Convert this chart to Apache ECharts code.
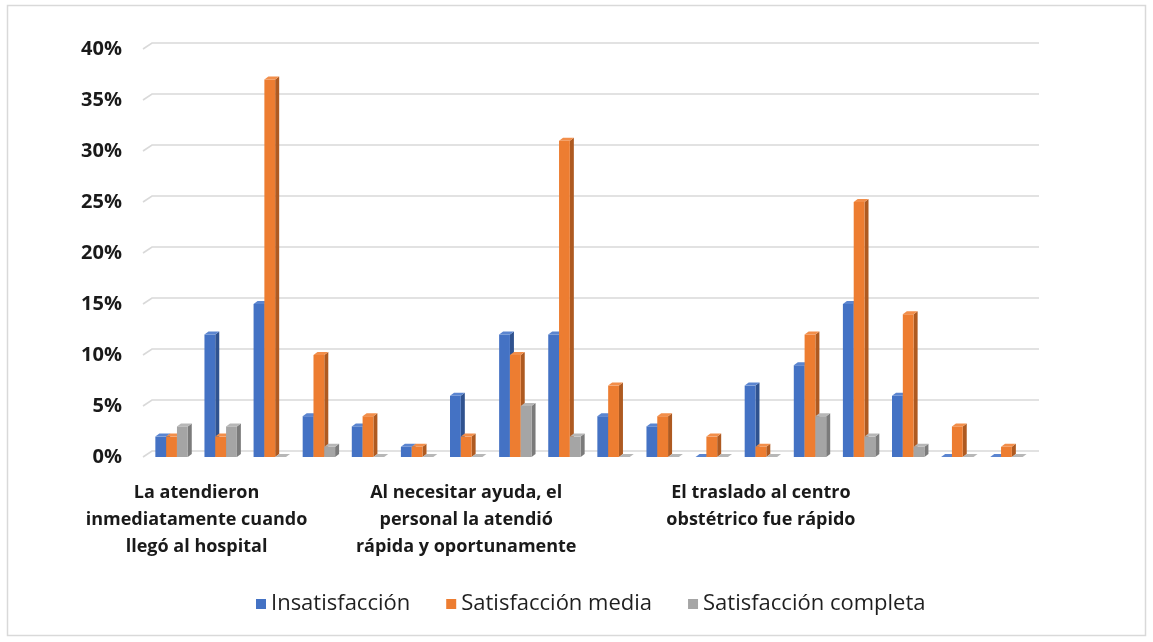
<!DOCTYPE html>
<html>
<head>
<meta charset="utf-8">
<script src="https://cdn.jsdelivr.net/npm/echarts@6/dist/echarts.min.js"></script>
<style>
  html, body { margin: 0; padding: 0; background: #ffffff; }
  #chart { width: 1153px; height: 642px; }
</style>
</head>
<body>
<div id="chart"></div>
<script>
// Survey items; each item covers six response groups on the axis
const questions = [
  'La atendieron\ninmediatamente cuando\nllegó al hospital',
  'Al necesitar ayuda, el\npersonal la atendió\nrápida y oportunamente',
  'El traslado al centro\nobstétrico fue rápido'
];
const groupsPerQuestion = 6;

const seriesNames = ['Insatisfacción', 'Satisfacción media', 'Satisfacción completa'];

// Percentages per group
const insatisfaccion = [2, 12, 15, 4, 3, 1, 6, 12, 12, 4, 3, 0, 7, 9, 15, 6, 0, 0];
const satisfaccionMedia = [2, 2, 37, 10, 4, 1, 2, 10, 31, 7, 4, 2, 1, 12, 25, 14, 3, 1];
const satisfaccionCompleta = [3, 3, 0, 1, 0, 0, 0, 5, 2, 0, 0, 0, 0, 4, 2, 1, 0, 0];

const yTicks = [0, 5, 10, 15, 20, 25, 30, 35, 40];

// Category list: the question text sits on the first group of each block
const categories = [];
questions.forEach(function (q) {
  for (let i = 0; i < groupsPerQuestion; i++) categories.push(i === 0 ? q : '');
});
const axisCategories = categories.map(function (c, i) {
  // the first label is nudged right so it stays inside the frame
  if (i === 0) return { value: c, textStyle: { padding: [0, 0, 0, 50] } };
  return c;
});

const palette = [
  { front: '#4472C4', side: '#2F528F', top: '#5B85D0' },
  { front: '#ED7D31', side: '#AE5A21', top: '#F28E4A' },
  { front: '#A5A5A5', side: '#7B7B7B', top: '#B7B7B7' }
];

const DEPTH_X = 4, DEPTH_Y = 3;

function barRenderer(seriesIdx) {
  const col = palette[seriesIdx];
  return function (params, api) {
    const idx = api.value(0);
    const val = api.value(1);
    const base = api.coord([idx, 0]);
    const top = api.coord([idx, val]);
    const band = api.size([1, 0])[0];
    const w = band * 0.22;
    const x = base[0] + (seriesIdx - 1.5) * w;
    const yb = base[1];
    const yt = top[1];
    return {
      type: 'group',
      children: [
        {
          type: 'polygon',
          shape: { points: [[x + w, yt], [x + w + DEPTH_X, yt - DEPTH_Y], [x + w + DEPTH_X, yb - DEPTH_Y], [x + w, yb]] },
          style: { fill: col.side }
        },
        {
          type: 'rect',
          shape: { x: x, y: yt, width: w, height: yb - yt },
          style: { fill: col.front }
        },
        {
          type: 'polygon',
          shape: { points: [[x, yt], [x + DEPTH_X, yt - DEPTH_Y], [x + w + DEPTH_X, yt - DEPTH_Y], [x + w, yt]] },
          style: { fill: col.top }
        }
      ]
    };
  };
}

// Gridlines drawn on the back wall, joined to the front edge by a short slant
function gridRenderer(params, api) {
  const v = api.value(0);
  const yf = api.coord([0, v])[1];
  const cs = params.coordSys;
  const x0 = cs.x - 4;
  const x1 = cs.x + 5;
  const x2 = cs.x + cs.width + 8;
  return {
    type: 'polyline',
    shape: { points: [[x0, yf], [x1, yf - 6], [x2, yf - 6]] },
    style: { stroke: '#d9d9d9', lineWidth: 1.6, fill: null }
  };
}

const seriesData = [insatisfaccion, satisfaccionMedia, satisfaccionCompleta];

const chart = echarts.init(document.getElementById('chart'), null, { renderer: 'canvas' });

const series = [
  {
    type: 'custom',
    name: 'grid',
    renderItem: gridRenderer,
    data: yTicks.map(function (t) { return [t]; }),
    encode: { y: 0 },
    silent: true,
    z: 1
  }
];
seriesData.forEach(function (arr, s) {
  series.push({
    type: 'custom',
    name: seriesNames[s],
    renderItem: barRenderer(s),
    itemStyle: { color: palette[s].front },
    data: arr.map(function (v, i) { return [i, v]; }),
    encode: { x: 0, y: 1 },
    z: 2 + s
  });
});

chart.setOption({
  animation: false,
  backgroundColor: '#ffffff',
  textStyle: { fontFamily: '"Open Sans", sans-serif' },
  graphic: [
    {
      type: 'rect',
      shape: { x: 7.5, y: 5.5, width: 1138, height: 630 },
      style: { fill: null, stroke: '#d9d9d9', lineWidth: 1.5 },
      silent: true
    }
  ],
  grid: { left: 147, right: 122, top: 49, bottom: 185, containLabel: false },
  xAxis: {
    type: 'category',
    data: axisCategories,
    axisLine: { show: false },
    axisTick: { show: false },
    splitLine: { show: false },
    axisLabel: {
      interval: 0,
      margin: 22,
      fontSize: 18,
      fontWeight: 'bold',
      lineHeight: 27,
      color: '#1a1a1a',
      align: 'center'
    }
  },
  yAxis: {
    type: 'value',
    min: 0,
    max: 40,
    interval: 5,
    axisLine: { show: false },
    axisTick: { show: false },
    splitLine: { show: false },
    axisLabel: {
      margin: 25,
      fontSize: 20,
      fontWeight: 'bold',
      color: '#1a1a1a',
      formatter: function (v) { return v + '%'; }
    }
  },
  legend: {
    data: seriesNames,
    bottom: 22,
    left: 251,
    icon: 'rect',
    itemWidth: 10,
    itemHeight: 10,
    itemGap: 36,
    textStyle: { fontSize: 22, color: '#1f1f1f' }
  },
  series: series
});
</script>
</body>
</html>
